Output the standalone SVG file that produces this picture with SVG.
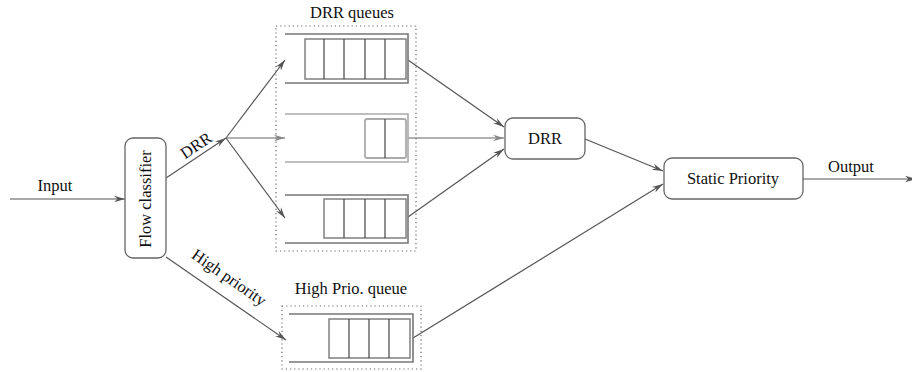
<svg xmlns="http://www.w3.org/2000/svg" width="912" height="372" viewBox="0 0 912 372">
  <style>
    .lbl { font-family: "Liberation Serif", "Times New Roman", serif; font-size: 16.5px; fill: #111; }
    .box { fill: #fff; stroke: #666; stroke-width: 1.3; }
    .edge { fill: none; stroke: #555; stroke-width: 1.2; }
    .edge-light { fill: none; stroke: #999; stroke-width: 1.3; }
    .group { fill: none; stroke: #666; stroke-width: 1.2; stroke-dasharray: 1.2 3; }
    .q { fill: none; stroke: #777; stroke-width: 1.6; }
    .q-light { fill: none; stroke: #aaa; stroke-width: 1.6; }
    .cells { fill: #fff; stroke: #888; stroke-width: 1.6; }
    .cells-light { fill: #fff; stroke: #aaa; stroke-width: 1.8; }
    .div { stroke: #444; stroke-width: 1.2; }
  </style>
  <defs>
    <marker id="arr" viewBox="0 0 12 8" refX="11" refY="4" markerWidth="12" markerHeight="8" markerUnits="userSpaceOnUse" orient="auto">
      <path d="M0,0.8 L11,4 L0,7.2 L3.5,4 z" fill="#555"/>
    </marker>
    <marker id="arr-light" viewBox="0 0 12 8" refX="11" refY="4" markerWidth="12" markerHeight="8" markerUnits="userSpaceOnUse" orient="auto">
      <path d="M0,0.8 L11,4 L0,7.2 L3.5,4 z" fill="#888"/>
    </marker>
  </defs>

  <!-- connectors -->
  <g id="connectors">
    <line class="edge" x1="10" y1="199" x2="125" y2="199" marker-end="url(#arr)"/>
    <line class="edge" x1="166" y1="178" x2="226" y2="138" marker-end="url(#arr)"/>
    <line class="edge" x1="226" y1="138" x2="285" y2="60" marker-end="url(#arr)"/>
    <line class="edge-light" x1="226" y1="138" x2="285" y2="138" marker-end="url(#arr-light)"/>
    <line class="edge" x1="226" y1="138" x2="285" y2="218" marker-end="url(#arr)"/>
    <line class="edge" x1="166" y1="257" x2="286" y2="340" marker-end="url(#arr)"/>
    <line class="edge" x1="408" y1="60" x2="504" y2="127" marker-end="url(#arr)"/>
    <line class="edge-light" x1="408" y1="138" x2="504" y2="138" marker-end="url(#arr-light)"/>
    <line class="edge" x1="408" y1="217" x2="504" y2="149" marker-end="url(#arr)"/>
    <line class="edge" x1="585" y1="139" x2="663" y2="171" marker-end="url(#arr)"/>
    <line class="edge" x1="413" y1="338" x2="663" y2="184" marker-end="url(#arr)"/>
    <line class="edge" x1="803" y1="179" x2="916" y2="179" marker-end="url(#arr)"/>
    <text class="lbl" x="55" y="191" text-anchor="middle">Input</text>
    <text class="lbl" x="851" y="172" text-anchor="middle">Output</text>
    <text class="lbl" transform="translate(199,150) rotate(-33.7)" text-anchor="middle">DRR</text>
    <text class="lbl" transform="translate(226,282) rotate(34.7)" text-anchor="middle">High priority</text>
  </g>

  <!-- classifier -->
  <g id="flow-classifier">
    <rect class="box" x="125" y="138" width="41" height="120" rx="8"/>
    <text class="lbl" transform="translate(151,199) rotate(-90)" text-anchor="middle">Flow classifier</text>
  </g>

  <!-- DRR queue group -->
  <g id="drr-queues">
    <rect class="group" x="276" y="26" width="140" height="225"/>
    <text class="lbl" x="352" y="18" text-anchor="middle">DRR queues</text>
    <!-- queue 1 -->
    <path class="q" d="M285,34 H408 V83 H285"/>
    <rect class="cells" x="305" y="39" width="101" height="40"/>
    <path class="div" d="M324,39 V79 M344,39 V79 M365,39 V79 M385,39 V79"/>
    <!-- queue 2 -->
    <path class="q-light" d="M285,114 H408 V162 H285"/>
    <rect class="cells-light" x="365" y="119" width="41" height="39" rx="2"/>
    <path class="div" d="M385,119 V158"/>
    <!-- queue 3 -->
    <path class="q" d="M285,195 H408 V243 H285"/>
    <rect class="cells" x="324" y="199" width="82" height="39"/>
    <path class="div" d="M344,199 V238 M365,199 V238 M385,199 V238"/>
  </g>

  <!-- high priority queue -->
  <g id="high-prio-queue">
    <rect class="group" x="282" y="306" width="139" height="63"/>
    <text class="lbl" x="351" y="294" text-anchor="middle">High Prio. queue</text>
    <path class="q" d="M289,314 H413 V362 H289"/>
    <rect class="cells" x="329" y="319" width="81" height="39"/>
    <path class="div" d="M349,319 V358 M369,319 V358 M389,319 V358"/>
  </g>

  <!-- DRR scheduler -->
  <g id="drr">
    <rect class="box" x="505" y="118" width="80" height="41" rx="8"/>
    <text class="lbl" x="545" y="144" text-anchor="middle">DRR</text>
  </g>

  <!-- static priority scheduler -->
  <g id="static-priority">
    <rect class="box" x="664" y="158" width="139" height="41" rx="8"/>
    <text class="lbl" x="733" y="184" text-anchor="middle">Static Priority</text>
  </g>
</svg>
